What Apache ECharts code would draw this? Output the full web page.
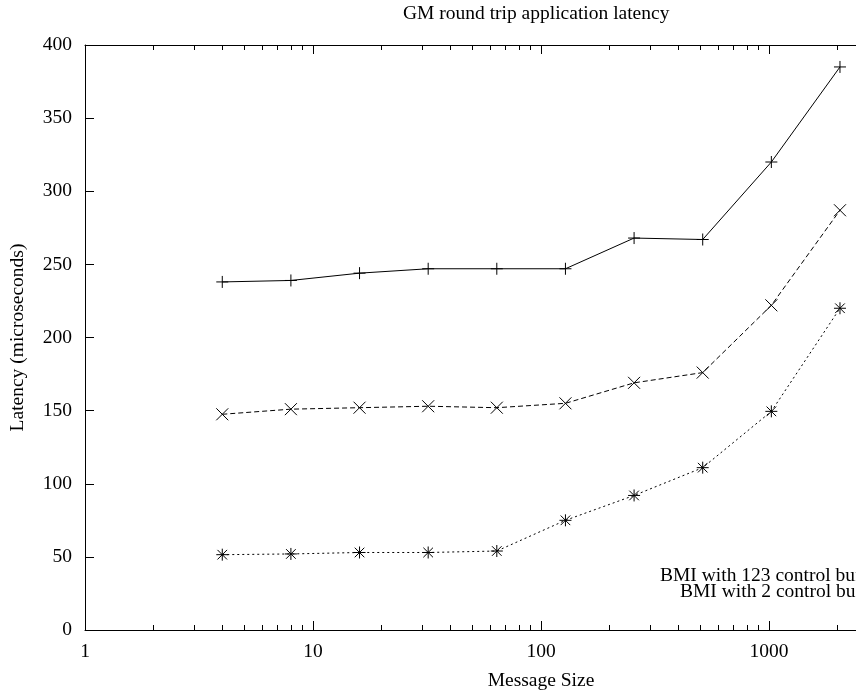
<!DOCTYPE html>
<html>
<head>
<meta charset="utf-8">
<script src="https://cdn.jsdelivr.net/npm/echarts@6/dist/echarts.min.js"></script>
<style>
  html, body { margin: 0; padding: 0; overflow: hidden; background: #fff; }
  #main { width: 1075px; height: 697px; }
</style>
</head>
<body>
<div id="main"></div>
<script>
// message sizes (bytes)
var sizes = [4, 8, 16, 32, 64, 128, 256, 512, 1024, 2048];
// latency in microseconds
var buf123 = [238, 239, 244, 247, 247, 247, 268, 267, 320, 385];
var buf2 = [147.5, 151, 152, 153, 152, 155, 169, 176, 222, 287];
var third = [51.5, 52, 53, 53, 54, 75, 92, 111, 149.5, 220];

var majorX = [1, 10, 100, 1000, 10000];
var minorX = [2, 3, 4, 5, 6, 7, 8, 9, 20, 30, 40, 50, 60, 70, 80, 90,
  200, 300, 400, 500, 600, 700, 800, 900, 2000, 3000, 4000, 5000, 6000, 7000, 8000, 9000];

var font = 'Liberation Serif';
var fs = 19.5;

function pairs(vals) {
  return sizes.map(function (s, i) { return [s, vals[i]]; });
}

var plusPath = 'path://M0,-1L0,1M-1,0L1,0';
var crossPath = 'path://M-1,-1L1,1M-1,1L1,-1';
var starPath = 'path://M0,-1L0,1M-1,0L1,0M-0.8,-0.8L0.8,0.8M-0.8,0.8L0.8,-0.8';

function xAx(pos, ticks, len, line, labels) {
  return {
    type: 'log', logBase: 10, min: 1, max: 10000, position: pos, gridIndex: 0,
    axisLine: { show: line, onZero: false, lineStyle: { color: '#000', width: 1 } },
    axisTick: { show: true, inside: true, length: len, customValues: ticks,
      lineStyle: { color: '#000', width: 1 } },
    axisLabel: { show: labels, customValues: majorX, margin: 12, color: '#000',
      fontFamily: font, fontSize: fs,
      formatter: function (v) { return String(Math.round(v)); } },
    splitLine: { show: false },
    name: labels ? 'Message Size' : '',
    nameLocation: 'middle', nameGap: 41,
    nameTextStyle: { color: '#000', fontFamily: font, fontSize: fs }
  };
}

function yAx(pos, labels) {
  return {
    type: 'value', min: 0, max: 400, interval: 50, position: pos,
    axisLine: { show: true, lineStyle: { color: '#000', width: 1 } },
    axisTick: { show: true, inside: true, length: 9, lineStyle: { color: '#000', width: 1 } },
    axisLabel: { show: labels, margin: 13, color: '#000', fontFamily: font, fontSize: fs },
    splitLine: { show: false },
    name: labels ? 'Latency (microseconds)' : '',
    nameLocation: 'middle', nameGap: 57,
    nameTextStyle: { color: '#000', fontFamily: font, fontSize: fs }
  };
}

function line(name, vals, dash, sym, size) {
  return {
    name: name, type: 'line', data: pairs(vals),
    symbol: sym, symbolSize: size, showAllSymbol: true,
    lineStyle: { color: '#000', width: 1, type: dash },
    itemStyle: { color: 'none', borderColor: '#000', borderWidth: 1 },
    animation: false, z: 3
  };
}

var chart = echarts.init(document.getElementById('main'));
var legendText = { color: '#000', fontFamily: font, fontSize: fs, lineHeight: 16 };
chart.setOption({
  animation: false,
  title: {
    text: 'GM round trip application latency', left: 403, top: 4, padding: 0,
    textStyle: { color: '#000', fontFamily: font, fontSize: fs, fontWeight: 'normal' }
  },
  legend: [
    { data: ['BMI with 123 control buffers'], left: 660, top: 566, padding: 0,
      align: 'right', itemWidth: 40, itemHeight: 12, textStyle: legendText },
    { data: ['BMI with 2 control buffers'], left: 680, top: 582, padding: 0,
      align: 'right', itemWidth: 40, itemHeight: 12, textStyle: legendText }
  ],
  grid: { left: 85, top: 45, width: 912, height: 585 },
  xAxis: [
    xAx('bottom', majorX, 9, true, true),
    xAx('bottom', minorX, 5, false, false),
    xAx('top', majorX, 9, true, false),
    xAx('top', minorX, 5, false, false)
  ],
  yAxis: [yAx('left', true), yAx('right', false)],
  series: [
    line('BMI with 123 control buffers', buf123, 'solid', plusPath, 12),
    line('BMI with 2 control buffers', buf2, [5, 3], crossPath, 12),
    line('', third, [2, 3], starPath, 12)
  ]
});
</script>
</body>
</html>
